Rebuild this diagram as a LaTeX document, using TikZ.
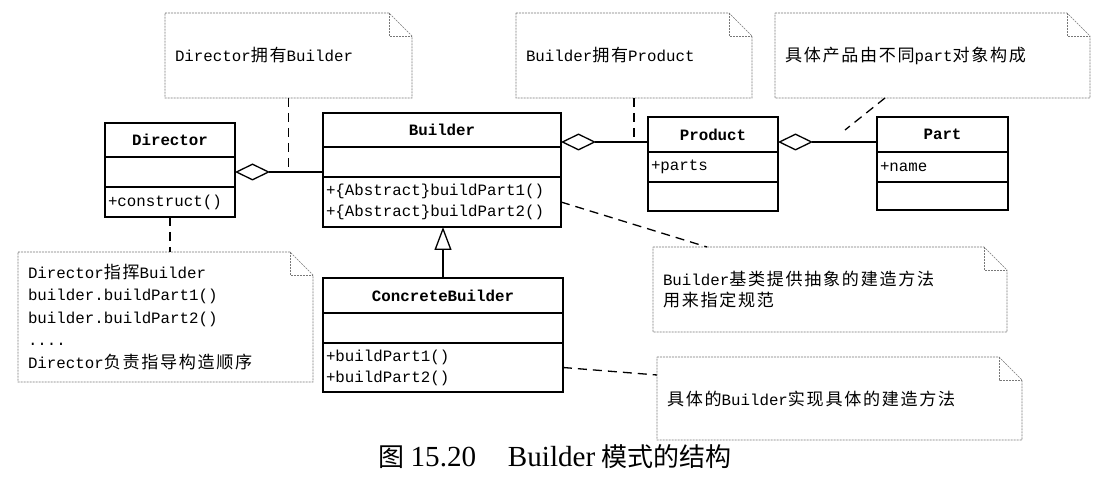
\documentclass[tikz,border=0pt]{standalone}
\usepackage{fontspec}
\setmainfont{Liberation Mono}
\newfontfamily\cjk[Scale=1.08,LetterSpace=10]{Noto Sans CJK SC}
\newfontfamily\capcjk{Noto Sans CJK SC}
\newfontfamily\capserif[Scale=1.12]{Liberation Serif}
\newcommand\zh[1]{{\cjk #1}}
\usepackage{tikz}
\usetikzlibrary{calc, positioning, arrows.meta}
\definecolor{noteline}{RGB}{120,120,120}
\tikzset{
    classhead/.style 2 args={draw, line width=1.5pt, outer sep=0pt, anchor=north west, text width=#1, minimum height=#2, inner xsep=3pt, inner ysep=0pt, align=center, font=\fontsize{15.8}{21}\selectfont\bfseries},
    classpart/.style 2 args={draw, line width=1.5pt, outer sep=0pt, anchor=north west, text width=#1, minimum height=#2, inner xsep=3pt, inner ysep=0pt, align=left},
    notebox/.style 2 args={anchor=north west, outer sep=0pt, text width=#1, minimum height=#2, inner xsep=10pt, inner ysep=0pt, align=left, fill=white},
    notedge/.style={draw=noteline, line width=0.6pt, dash pattern=on 2pt off 1pt},
    notelink/.style={line width=1.3pt, dash pattern=on 9pt off 6pt},
    aggr/.style={{Diamond[open, length=35pt, width=17pt]}-, line width=1.3pt},
    genarrow/.style={-{Triangle[open, length=23pt, width=17pt]}, line width=1.3pt}
}

\begin{document}
\begin{tikzpicture}[x=1pt,y=-1pt,font=\fontsize{15.8}{21}\selectfont]
    \useasboundingbox[fill=white] (0,0) rectangle (1101,486);

    % notes
    \node[notebox={227pt}{85pt}] (n1) at (165,13) {Director\zh{拥有}Builder};
    \node[notebox={216pt}{85pt}] (n2) at (516,13) {Builder\zh{拥有}Product};
    \node[notebox={295pt}{85pt}] (n3) at (775,13) {\zh{具体产品由不同}part\zh{对象构成}};
    \node[notebox={275pt}{130pt}, font=\fontsize{15.8}{22.5}\selectfont] (n4) at (18,252)
        {Director\zh{指挥}Builder\\builder.buildPart1()\\builder.buildPart2()\\....\\Director\zh{负责指导构造顺序}};
    \node[notebox={334pt}{85pt}] (n5) at (653,247) {Builder\zh{基类提供抽象的建造方法}\\\zh{用来指定规范}};
    \node[notebox={345pt}{83pt}] (n6) at (657,357) {\zh{具体的}Builder\zh{实现具体的建造方法}};
    \foreach \n in {n1,n2,n3,n4,n5,n6} {
        \draw[notedge] (\n.north west) -- ($(\n.north east)+(-23,0)$) -- ($(\n.north east)+(0,23)$)
            -- (\n.south east) -- (\n.south west) -- cycle;
        \draw[notedge] ($(\n.north east)+(-23,0)$) -- ($(\n.north east)+(-23,23)$) -- ($(\n.north east)+(0,23)$);
    }

    % classes
    \node[classhead={124pt}{34pt}] (dir) at (105,123) {Director};
    \node[classpart={124pt}{30pt}] (dir-a) at (dir.south west) {};
    \node[classpart={124pt}{30pt}] (dir-m) at (dir-a.south west) {+construct()};

    \node[classhead={232pt}{34pt}] (bld) at (323,113) {Builder};
    \node[classpart={232pt}{30pt}] (bld-a) at (bld.south west) {};
    \node[classpart={232pt}{50pt}] (bld-m) at (bld-a.south west) {+\{Abstract\}buildPart1()\\+\{Abstract\}buildPart2()};

    \node[classhead={124pt}{35pt}] (prd) at (648,117) {Product};
    \node[classpart={124pt}{30pt}] (prd-a) at (prd.south west) {+parts};
    \node[classpart={124pt}{29pt}] (prd-m) at (prd-a.south west) {};

    \node[classhead={125pt}{35pt}] (prt) at (877,117) {Part};
    \node[classpart={125pt}{30pt}] (prt-a) at (prt.south west) {+name};
    \node[classpart={125pt}{28pt}] (prt-m) at (prt-a.south west) {};

    \node[classhead={234pt}{35pt}] (cb) at (323,278) {ConcreteBuilder};
    \node[classpart={234pt}{30pt}] (cb-a) at (cb.south west) {};
    \node[classpart={234pt}{49pt}] (cb-m) at (cb-a.south west) {+buildPart1()\\+buildPart2()};

    % relations
    \coordinate (bld-r) at ($(bld.south east)+(0,-5)$);
    \coordinate (prd-r) at ($(prd.south east)+(0,-10)$);
    \coordinate (n3-tip) at (845,130);
    \draw[aggr] (dir-a.east) -- (dir-a.east -| bld.west);
    \draw[aggr] (bld-r) -- (bld-r -| prd.west);
    \draw[aggr] (prd-r) -- (prd-r -| prt.west);
    \draw[genarrow] (cb.north) -- (cb.north |- bld-m.south);

    \draw[notelink] (n1.south) -- (n1.south |- dir-a.east);
    \draw[notelink] (n2.south) -- (n2.south |- bld-r);
    \draw[notelink] ($(n3.south west)+(110,0)$) -- (n3-tip);
    \draw[notelink] (dir-m.south) -- (dir-m.south |- n4.north);
    \draw[notelink] (bld-m.east) -- ($(n5.north west)+(54,0)$);
    \draw[notelink] (cb-m.east) -- ($(n6.north west)+(0,18)$);

    % caption
    \node[font=\fontsize{26}{30}\selectfont] (cap) at (555,457)
        {\capcjk 图 {\capserif 15.20}\quad\ {\capserif Builder} 模式的结构};
\end{tikzpicture}
\end{document}
